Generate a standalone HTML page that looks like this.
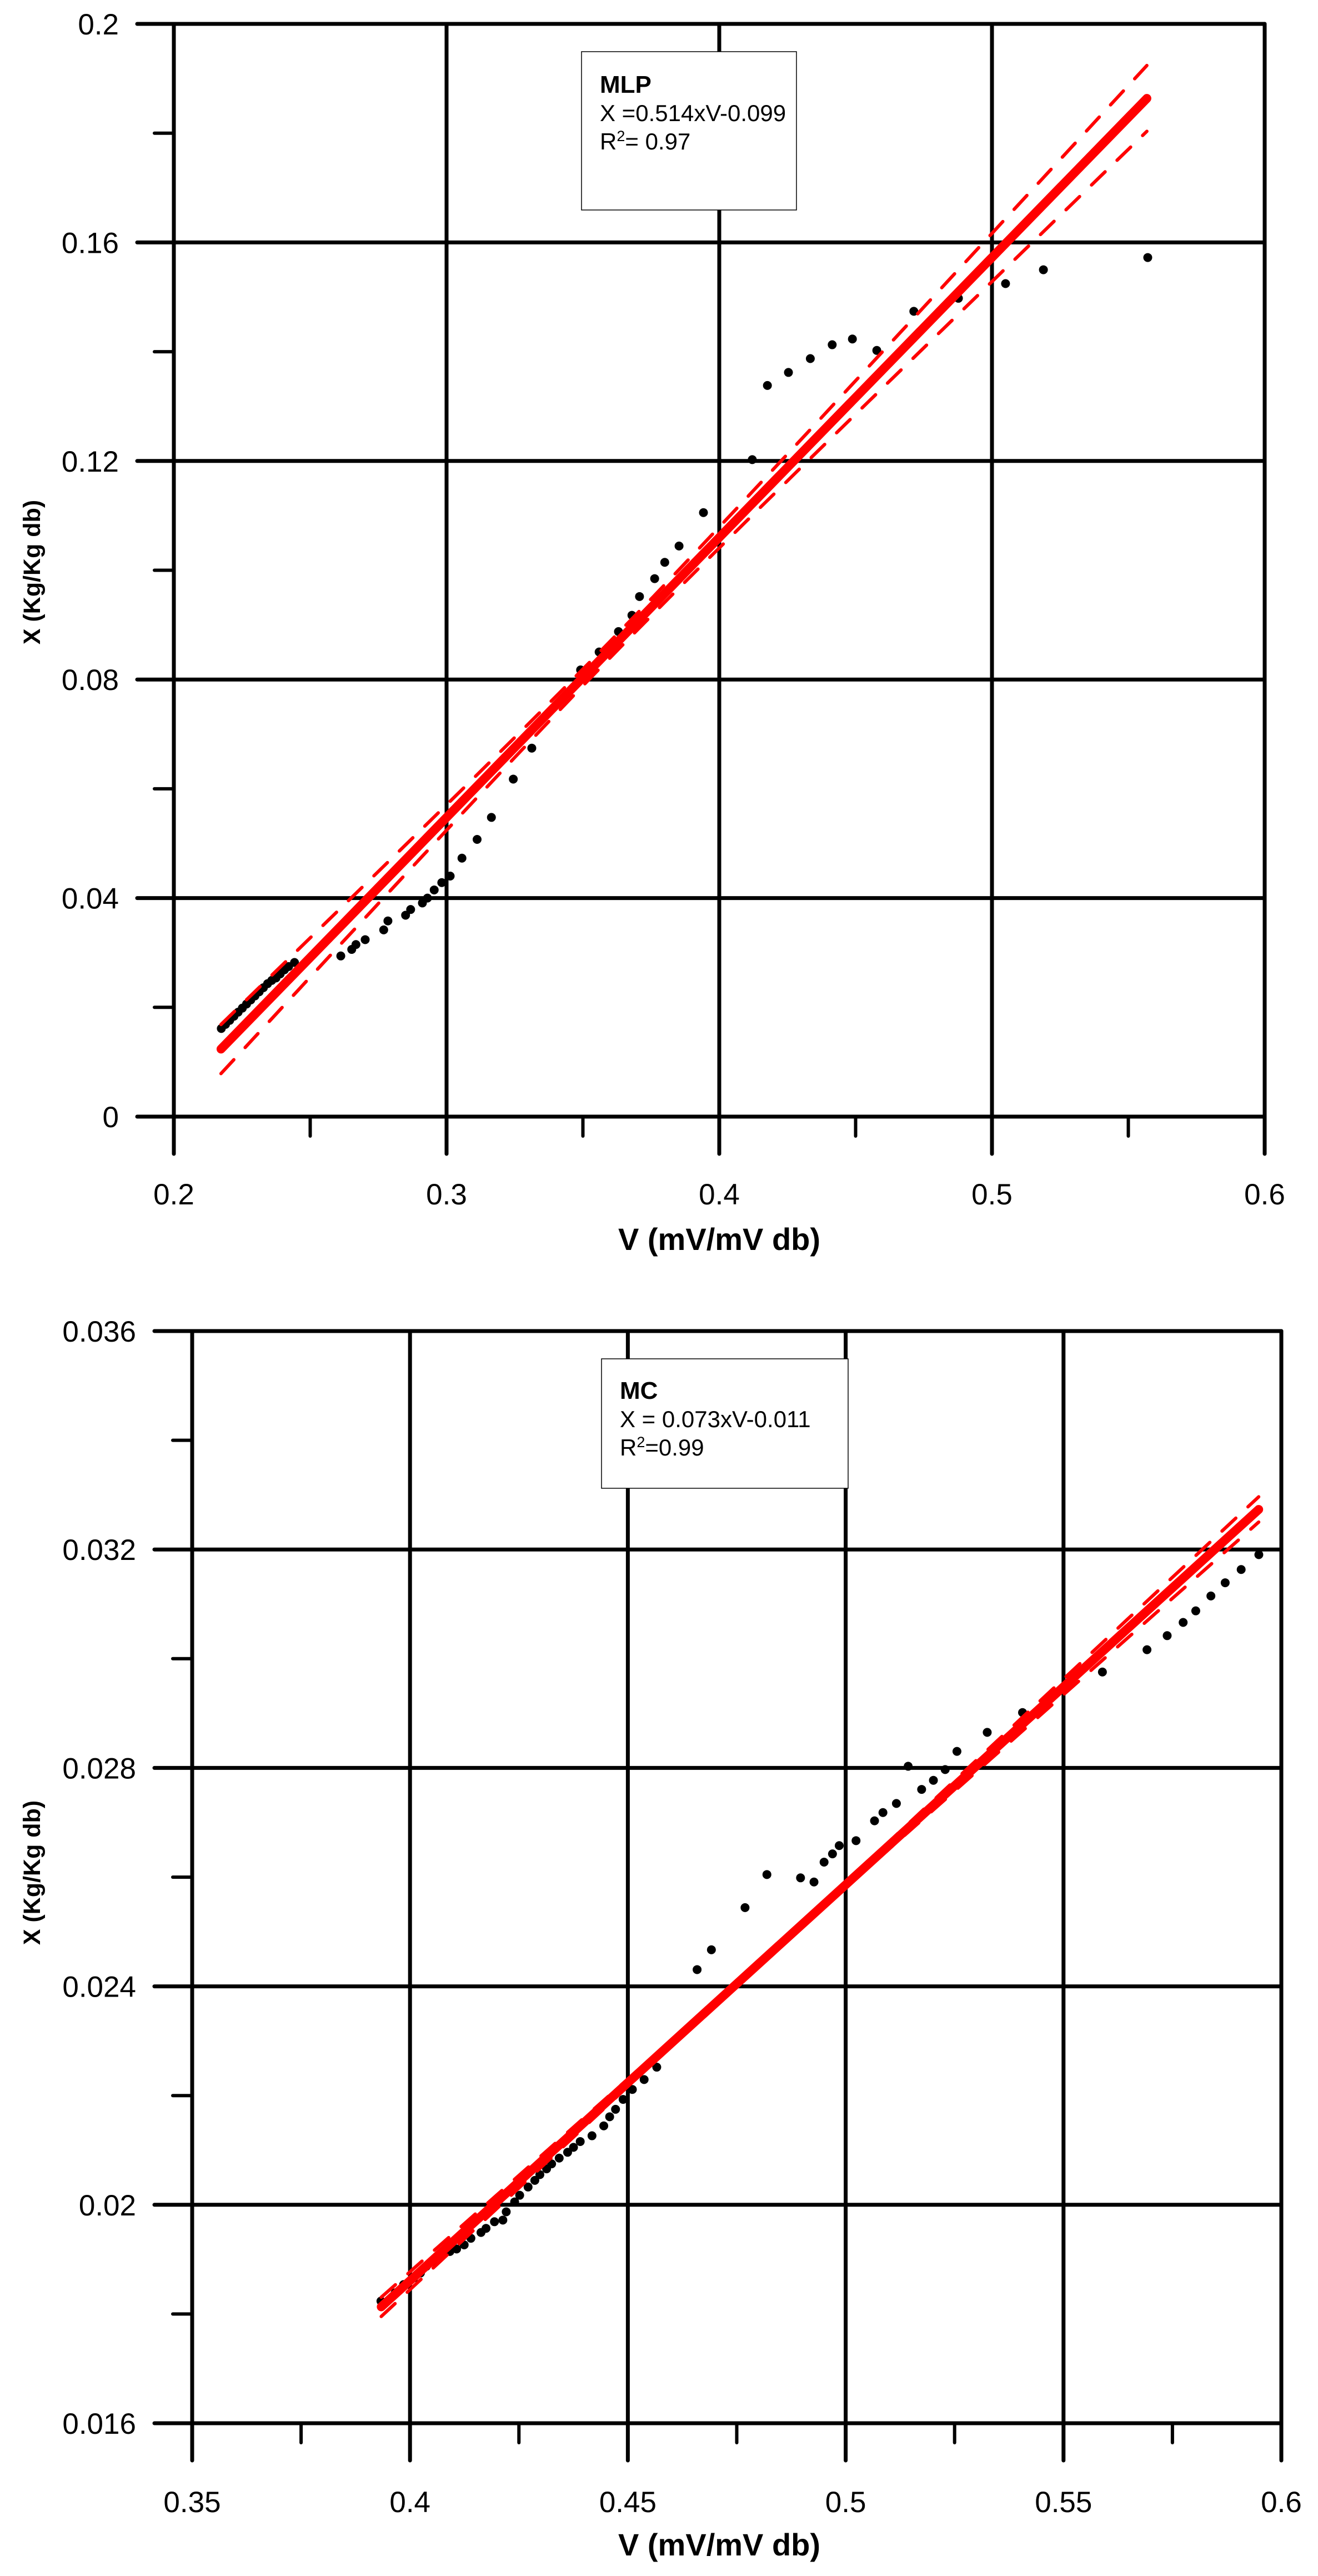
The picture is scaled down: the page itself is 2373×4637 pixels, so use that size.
<!DOCTYPE html>
<html><head><meta charset="utf-8"><style>
html,body{margin:0;padding:0;background:#fff;}
svg{display:block;}
text{font-family:"Liberation Sans",Arial,sans-serif;}
</style></head><body>
<svg id="s" width="2373" height="4637" xmlns="http://www.w3.org/2000/svg">
<rect width="2373" height="4637" fill="#fff"/>
</svg>
<script>
const S=document.getElementById('s');let h='';
function ln(x1,y1,x2,y2,w,c,extra){h+=`<line x1="${x1}" y1="${y1}" x2="${x2}" y2="${y2}" stroke="${c||'#000'}" stroke-width="${w}" stroke-linecap="round" ${extra||''}/>`;}
function tx(x,y,t,sz,anchor,extra){h+=`<text x="${x}" y="${y}" font-size="${sz}" text-anchor="${anchor||'start'}" ${extra||''}>${t}</text>`;}
function chart(o){
 const X=v=>o.x0+(v-o.v0)*o.sx, Y=v=>o.y0-(v-o.u0)*o.sy;
 o.yt.forEach((v,i)=>{const y=Y(v);ln(o.gl,y,o.xr,y,7);tx(o.lr,y+19,o.yl[i],53,'end');});
 o.ym.forEach(v=>{const y=Y(v);ln(o.x0-35,y,o.x0,y,6);});
 o.xt.forEach((v,i)=>{const x=X(v);ln(x,o.yt0,x,o.yb+67,7);tx(x,o.lb,o.xl[i],53,'middle');});
 o.xm.forEach(v=>{const x=X(v);ln(x,o.yb,x,o.yb+35,6);});
 h+=`<rect x="${o.lg[0]}" y="${o.lg[1]}" width="${o.lg[2]}" height="${o.lg[3]}" fill="#fff" stroke="#000" stroke-width="1.5"/>`;
 tx(o.lg[0]+33,o.lt[0],o.lt[1],44,'start','font-weight="bold"');
 tx(o.lg[0]+33,o.lt[0]+51,o.lt[2],42);
 tx(o.lg[0]+33,o.lt[0]+102,o.lt[3],42);
 tx(o.tx[0],o.tx[1],'V (mV/mV db)',56,'middle','font-weight="bold"');
 tx(0,0,'X (Kg/Kg db)',43,'middle',`font-weight="bold" transform="translate(72,${o.ty}) rotate(-90)"`);
 o.pts.forEach(p=>{h+=`<circle cx="${p[0]*o.px[0]+o.px[1]}" cy="${p[1]*o.py[0]+o.py[1]}" r="8" fill="#000"/>`;});
 const f=o.fit,N=60;let up='',lo='';
 for(let i=0;i<=N;i++){const v=f.a+(f.b-f.a)*i/N;const m=f.k*v+f.c;const w=Math.sqrt(f.p+f.q*(v-f.m)**2);
  up+=(i?'L':'M')+X(v).toFixed(1)+','+Y(m+w).toFixed(1);lo+=(i?'L':'M')+X(v).toFixed(1)+','+Y(m-w).toFixed(1);}
 h+=`<path d="${up}" fill="none" stroke="#f00" stroke-width="6" stroke-dasharray="34,30" stroke-linecap="round"/>`;
 h+=`<path d="${lo}" fill="none" stroke="#f00" stroke-width="6" stroke-dasharray="34,30" stroke-linecap="round"/>`;
 ln(X(f.a),Y(f.k*f.a+f.c),X(f.b),Y(f.k*f.b+f.c),16,'#f00');
}
chart({x0:313,v0:0.2,sx:4910,y0:2010,u0:0,sy:9835,xr:2277,gl:247,yt0:43,yb:2010,lr:214,lb:2168,
 yt:[0,0.04,0.08,0.12,0.16,0.2],yl:['0','0.04','0.08','0.12','0.16','0.2'],ym:[0.02,0.06,0.1,0.14,0.18],
 xt:[0.2,0.3,0.4,0.5,0.6],xl:['0.2','0.3','0.4','0.5','0.6'],xm:[0.25,0.35,0.45,0.55],
 lg:[1047,93,387,285],lt:[167,'MLP','X =0.514xV-0.099','R<tspan font-size="27" dy="-15">2</tspan><tspan dy="15">= 0.97</tspan>'],
 tx:[1295,2250],ty:1030,px:[1.515,0],py:[1.467,0],
 pts:[[263,1262],[268,1257],[273,1252],[278,1247],[283,1242],[288,1237],[293,1232],[298,1227],[303,1222],[308,1217],[313,1212],[318,1207],[323,1203],[328,1200],[333,1195],[338,1190],[343,1186],[350,1181],[405,1173],[418,1165],[423,1159],[434,1153],[456,1141],[461,1130],[482,1123],[488,1116],[502,1108],[508,1102],[516,1092],[525,1083],[535,1075],[549,1053],[567,1030],[584,1003],[610,956],[632,918],[690,822],[712,800],[735,775],[751,755],[760,732],[778,710],[790,690],[807,670],[836,629],[894,564],[912,473],[937,457],[963,440],[989,423],[1013,416],[1042,430],[1086,382],[1139,366],[1195,348],[1240,331],[1364,316]],
 fit:{a:0.2173,b:0.5568,k:0.5125,c:-0.0990,m:0.36,p:2.25e-6,q:8.8e-4}});
chart({x0:346,v0:0.35,sx:7844,y0:4362,u0:0.016,sy:98300,xr:2307,gl:278,yt0:2396,yb:4362,lr:245,lb:4522,
 yt:[0.016,0.02,0.024,0.028,0.032,0.036],yl:['0.016','0.02','0.024','0.028','0.032','0.036'],ym:[0.018,0.022,0.026,0.03,0.034],
 xt:[0.35,0.4,0.45,0.5,0.55,0.6],xl:['0.35','0.4','0.45','0.5','0.55','0.6'],xm:[0.375,0.425,0.475,0.525,0.575],
 lg:[1083,2446,444,233],lt:[2518,'MC','X = 0.073xV-0.011','R<tspan font-size="27" dy="-15">2</tspan><tspan dy="15">=0.99</tspan>'],
 tx:[1295,4600],ty:3371,px:[1.514,0],py:[1.488,2300],
 pts:[[453,1238],[470,1228],[480,1218],[492,1210],[500,1204],[507,1196],[515,1190],[525,1183],[535,1178],[543,1175],[552,1170],[560,1162],[572,1155],[578,1150],[588,1142],[598,1140],[602,1130],[612,1118],[618,1110],[628,1100],[636,1092],[642,1085],[650,1078],[656,1072],[665,1065],[675,1058],[682,1052],[690,1045],[704,1038],[718,1026],[725,1015],[732,1006],[741,994],[752,982],[766,970],[781,955],[829,837],[846,813],[886,762],[912,722],[952,726],[968,731],[980,707],[990,697],[998,687],[1018,681],[1040,657],[1050,647],[1066,636],[1080,591],[1096,619],[1110,608],[1124,595],[1138,573],[1174,550],[1216,526],[1311,477],[1364,450],[1388,433],[1407,417],[1422,403],[1440,385],[1457,369],[1476,353],[1497,335]],
 fit:{a:0.3934,b:0.5948,k:0.0725,c:-0.01039,m:0.48,p:1.0e-9,q:4.0e-6}});
S.insertAdjacentHTML('beforeend',h);
</script>
</body></html>
